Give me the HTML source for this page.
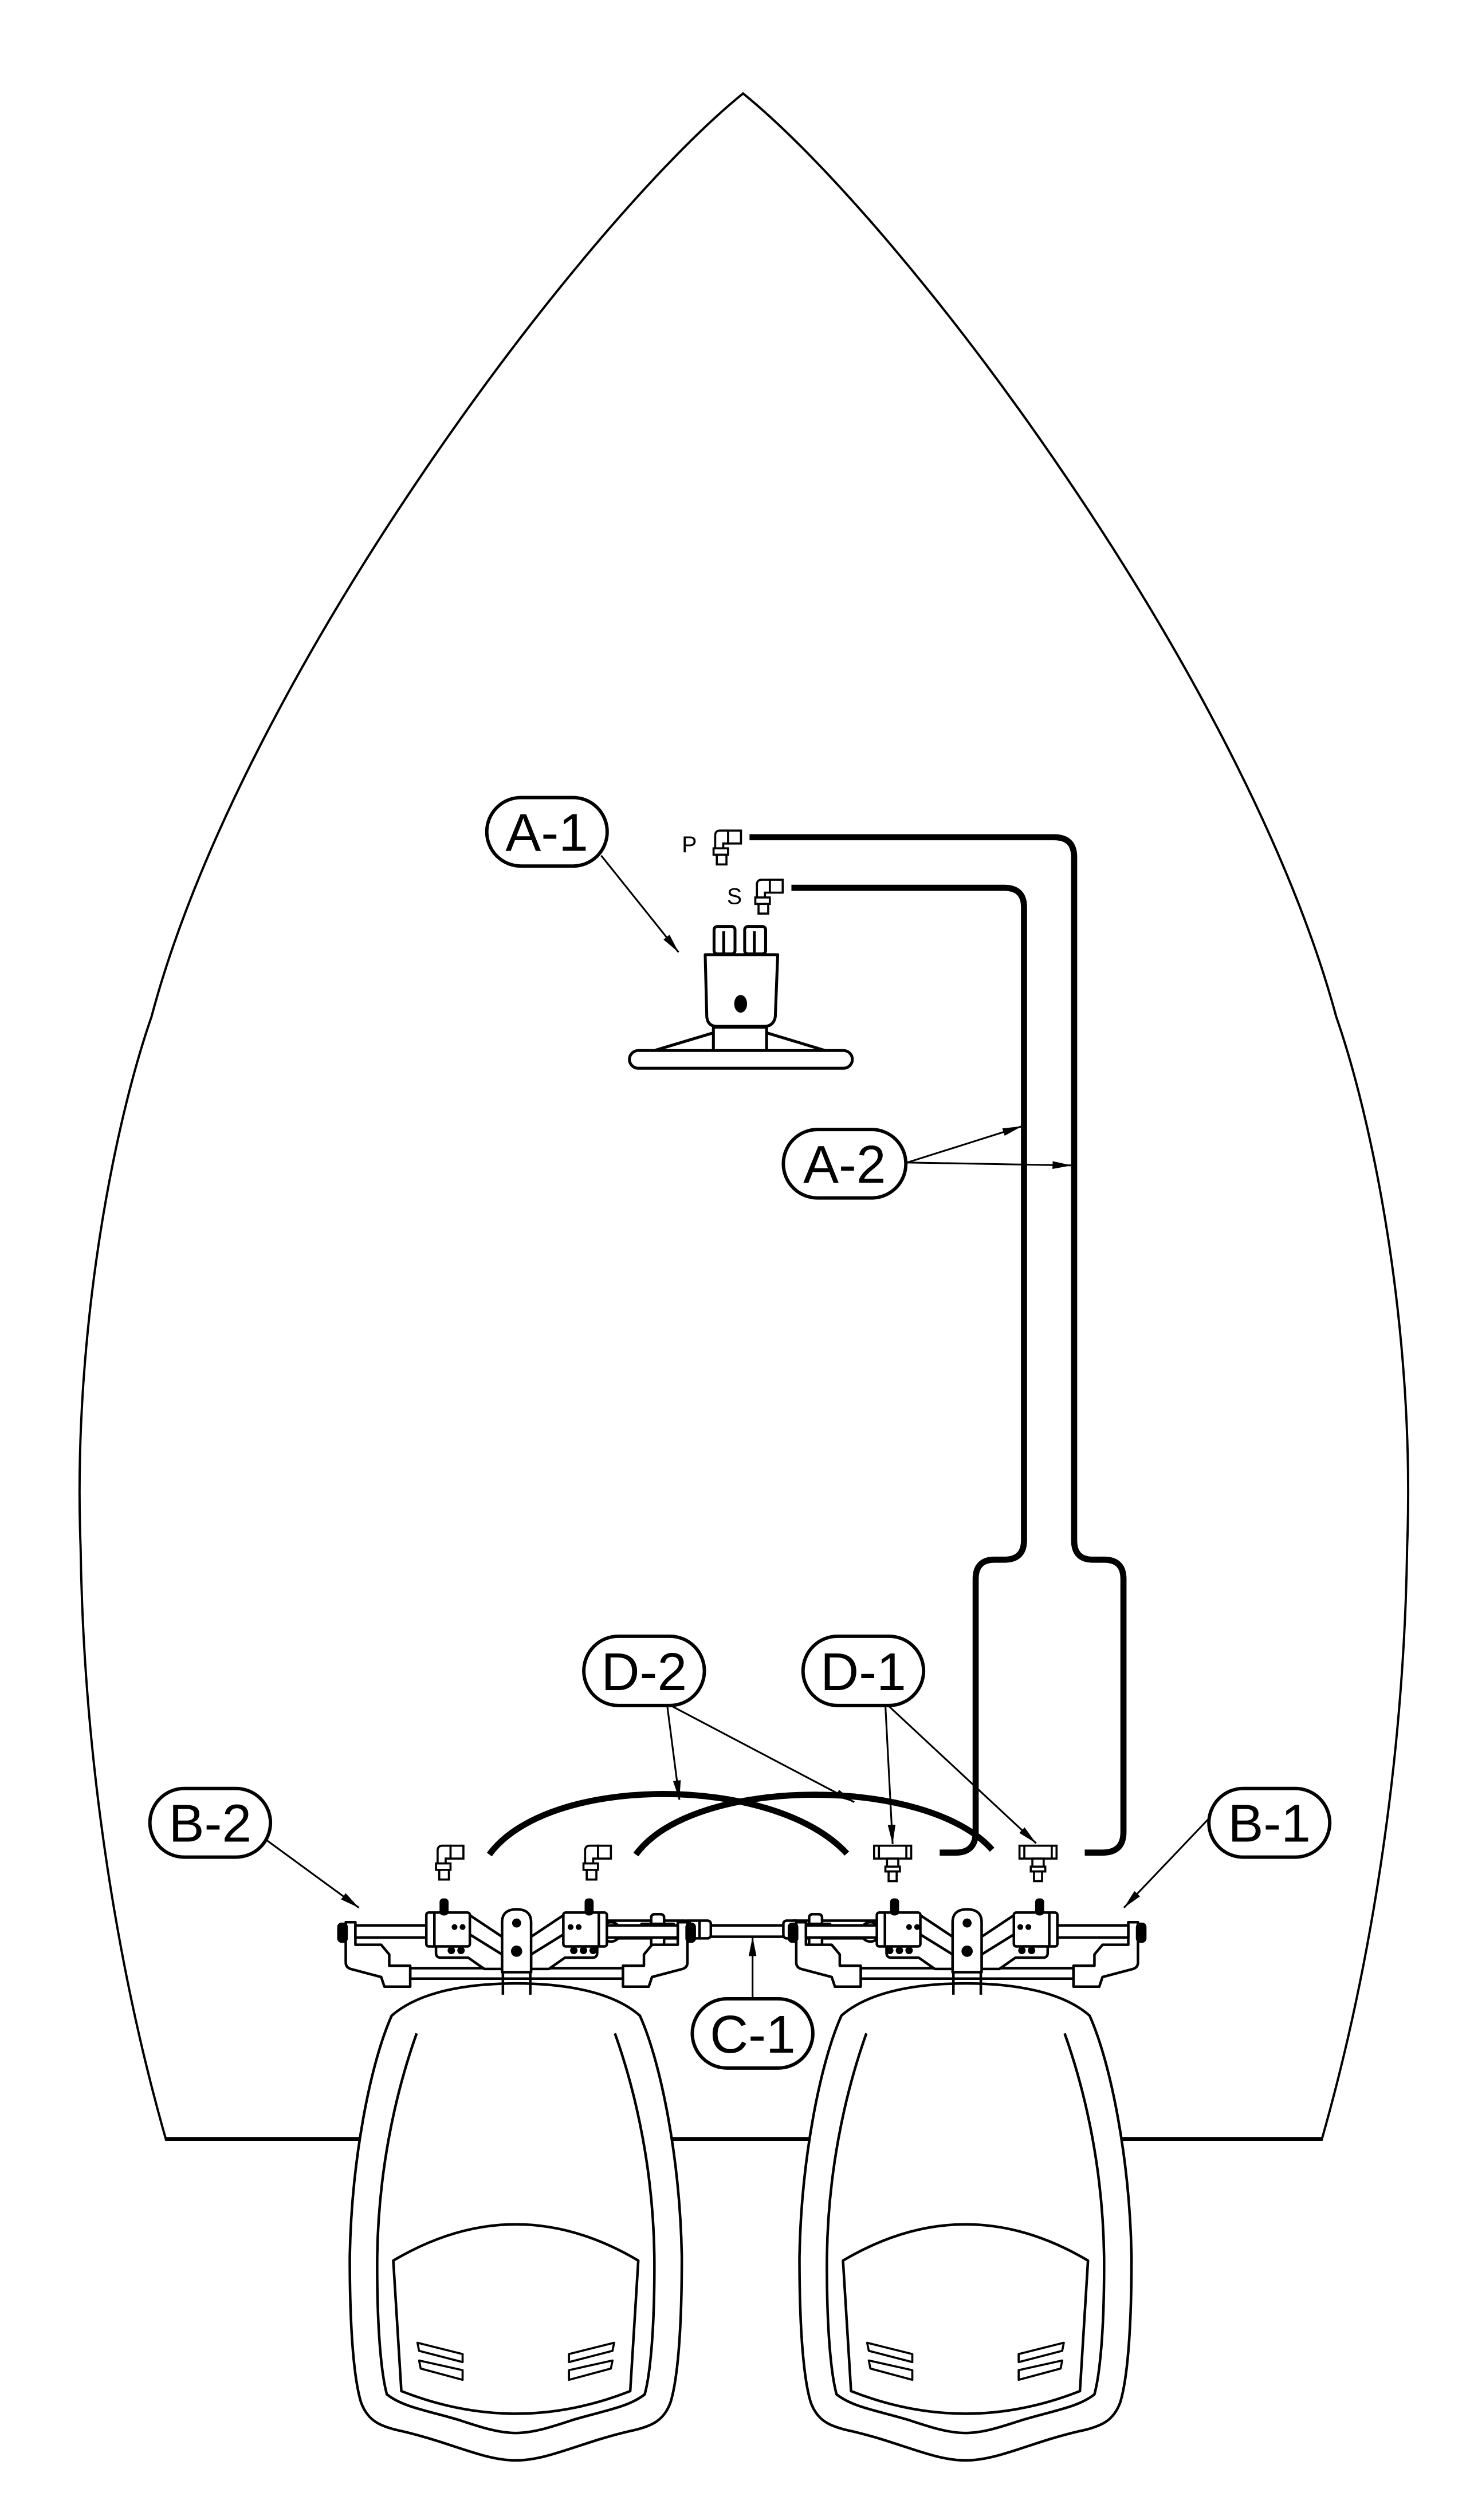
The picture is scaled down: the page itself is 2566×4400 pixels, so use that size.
<!DOCTYPE html>
<html><head><meta charset="utf-8"><style>
html,body{margin:0;padding:0;background:#fff;}
svg{display:block;}
text{font-family:"Liberation Sans",Arial,sans-serif;}
</style></head><body>
<svg xmlns="http://www.w3.org/2000/svg" width="2566" height="4400" viewBox="0 0 912 1564" preserveAspectRatio="none">
<defs>
<marker id="ar" viewBox="0 0 12 6" refX="12" refY="3" markerWidth="12" markerHeight="6" markerUnits="userSpaceOnUse" orient="auto">
<path d="M0,0.6 L12,3 L0,5.4 Z" fill="#000"/>
</marker>
</defs>
<rect width="912" height="1564" fill="#fff"/>

<!-- Hull -->
<path d="M103,1328 C75,1230 52,1100 50,960 C45,830 70,700 94,631 C150,420 360,140 461,58 C562,140 772,420 829,631 C853,700 878,830 873,960 C871,1100 848,1230 820,1328 Z" fill="none" stroke="#000" stroke-width="1.4"/>

<!-- Helm A-1 -->
<g fill="none" stroke="#000" stroke-width="1.8" stroke-linejoin="round">
<rect x="443" y="575" width="13" height="17" rx="2" fill="#fff"/>
<rect x="462" y="575" width="13" height="17" rx="2" fill="#fff"/>
<line x1="449" y1="578" x2="449" y2="592"/><line x1="468" y1="578" x2="468" y2="592"/>
<path d="M437.5,592.5 H482.5 L481,631 Q480,637 474,637 H445 Q439,637 438.5,631 Z" fill="#fff"/>
<rect x="442.6" y="637.5" width="33" height="15"/>
<rect x="390.5" y="652" width="138.3" height="11" rx="5.5" fill="#fff"/>
<line x1="406" y1="652" x2="442.6" y2="641"/><line x1="475.6" y1="641" x2="512" y2="652"/>
</g>
<ellipse cx="459.5" cy="623" rx="4" ry="5.5" fill="#000"/>

<!-- P / S fittings and text -->
<text x="423" y="529" font-size="14">P</text>
<text x="451" y="561" font-size="14">S</text>
<g fill="#fff" stroke="#000" stroke-width="1.3">
<g transform="translate(441.7,514.5)">
<rect x="10" y="1" width="8" height="8"/>
<path d="M2,16 V4 Q2,1 5,1 H10 V9 H7 V16"/>
<rect x="1" y="12" width="9" height="4"/>
<rect x="3" y="16" width="6" height="6"/>
</g>
<g transform="translate(467.6,545)">
<rect x="10" y="1" width="8" height="8"/>
<path d="M2,16 V4 Q2,1 5,1 H10 V9 H7 V16"/>
<rect x="1" y="12" width="9" height="4"/>
<rect x="3" y="16" width="6" height="6"/>
</g>
</g>

<!-- Hoses A-2 -->
<g fill="none" stroke="#000" stroke-width="3.8">
<path d="M465,519.6 H654 Q666.4,519.6 666.4,532 V956 Q666.4,968 678,968 H685 Q697,968 697,980 V1137 Q697,1149.8 684,1149.8 H673"/>
<path d="M491,551 H623 Q635.3,551 635.3,563 V956 Q635.3,968 623,968 H617 Q605.3,968 605.3,980 V1137 Q605.3,1149.8 593,1149.8 H583"/>
</g>

<!-- D-2 hoses (arcs) -->
<g fill="none" stroke="#000" stroke-width="3.8">
<path d="M303.6,1151 C340,1101 480,1101 525.4,1150.4"/>
<path d="M394.5,1151 C430,1102 575,1102 615.5,1148"/>
</g>

<!-- Fittings at transom -->
<g fill="#fff" stroke="#000" stroke-width="1.3">
<g transform="translate(269.5,1144.5)">
<rect x="10" y="1" width="8" height="8"/>
<path d="M2,16 V4 Q2,1 5,1 H10 V9 H7 V16"/>
<rect x="1" y="12" width="9" height="4"/>
<rect x="3" y="16" width="6" height="6"/>
</g>
<g transform="translate(361,1144.5)">
<rect x="10" y="1" width="8" height="8"/>
<path d="M2,16 V4 Q2,1 5,1 H10 V9 H7 V16"/>
<rect x="1" y="12" width="9" height="4"/>
<rect x="3" y="16" width="6" height="6"/>
</g>
<g transform="translate(542.3,1144.5)">
<rect x="0" y="1" width="23" height="8"/>
<line x1="3" y1="1" x2="3" y2="9"/><line x1="20" y1="1" x2="20" y2="9"/>
<rect x="8" y="9" width="7" height="6"/>
<rect x="7" y="14" width="9" height="3"/>
<rect x="9" y="17" width="5" height="6"/>
</g>
<g transform="translate(632.5,1144.5)">
<rect x="0" y="1" width="23" height="8"/>
<line x1="3" y1="1" x2="3" y2="9"/><line x1="20" y1="1" x2="20" y2="9"/>
<rect x="8" y="9" width="7" height="6"/>
<rect x="7" y="14" width="9" height="3"/>
<rect x="9" y="17" width="5" height="6"/>
</g>
</g>

<!-- Transom line -->
<line x1="103" y1="1327" x2="820" y2="1327" stroke="#000" stroke-width="1.4"/>

<!-- Engines -->
<g fill="none" stroke="#000" stroke-width="1.6" stroke-linejoin="round">
<path d="M-77,1251 C-60,1236 -30,1231 0,1231 C30,1231 60,1236 77,1251 C90,1280 102,1340 103,1401 C103,1450 100,1478 96,1491 C92,1502 85,1506 70,1509 C40,1516 20,1527 0,1527 C-20,1527 -40,1516 -70,1509 C-85,1506 -92,1502 -96,1491 C-100,1478 -103,1450 -103,1401 C-102,1340 -90,1280 -77,1251 Z" fill="#fff" transform="translate(320,0)"/>
<g transform="translate(320,0)">
<path d="M-61.5,1262 C-75,1300 -86,1350 -86,1406 C-86,1450 -83,1475 -80,1486 C-70,1494 -55,1496 -35,1502 C-20,1507 -10,1510 0,1510 C10,1510 20,1507 35,1502 C55,1496 70,1494 80,1486 C83,1475 86,1450 86,1406 C86,1350 75,1300 61.5,1262"/>
<path d="M-76,1403 Q0,1358 76,1403 L71,1484 Q0,1512 -71,1484 Z"/>
<path d="M-61,1454 L-33,1461 L-33,1466 L-60,1459 Z M-60,1465 L-33,1471 L-33,1477 L-59,1470 Z" stroke-width="1.3"/>
<path d="M61,1454 L33,1461 L33,1466 L60,1459 Z M60,1465 L33,1471 L33,1477 L59,1470 Z" stroke-width="1.3"/>
</g>
</g>
<g fill="none" stroke="#000" stroke-width="1.6" stroke-linejoin="round">
<path d="M-77,1251 C-60,1236 -30,1231 0,1231 C30,1231 60,1236 77,1251 C90,1280 102,1340 103,1401 C103,1450 100,1478 96,1491 C92,1502 85,1506 70,1509 C40,1516 20,1527 0,1527 C-20,1527 -40,1516 -70,1509 C-85,1506 -92,1502 -96,1491 C-100,1478 -103,1450 -103,1401 C-102,1340 -90,1280 -77,1251 Z" fill="#fff" transform="translate(599,0)"/>
<g transform="translate(599,0)">
<path d="M-61.5,1262 C-75,1300 -86,1350 -86,1406 C-86,1450 -83,1475 -80,1486 C-70,1494 -55,1496 -35,1502 C-20,1507 -10,1510 0,1510 C10,1510 20,1507 35,1502 C55,1496 70,1494 80,1486 C83,1475 86,1450 86,1406 C86,1350 75,1300 61.5,1262"/>
<path d="M-76,1403 Q0,1358 76,1403 L71,1484 Q0,1512 -71,1484 Z"/>
<path d="M-61,1454 L-33,1461 L-33,1466 L-60,1459 Z M-60,1465 L-33,1471 L-33,1477 L-59,1470 Z" stroke-width="1.3"/>
<path d="M61,1454 L33,1461 L33,1466 L60,1459 Z M60,1465 L33,1471 L33,1477 L59,1470 Z" stroke-width="1.3"/>
</g>
</g>

<!-- Tie bar C-1 -->
<g fill="#fff" stroke="#000" stroke-width="1.6">
<rect x="440" y="1195" width="51" height="7"/>
</g>

<!-- Steering assemblies -->
<g fill="#fff" stroke="#000" stroke-width="1.6" stroke-linejoin="round">
<g>
<rect x="373" y="1192" width="52" height="11"/>
<rect x="404" y="1188" width="8" height="22" rx="2"/>
<rect x="398" y="1194" width="20" height="6"/>
<circle cx="416" cy="1197" r="1.3" fill="#000"/>
<rect x="424" y="1192" width="17" height="11" rx="2"/>
<line x1="428" y1="1192" x2="428" y2="1203"/><line x1="434" y1="1192" x2="434" y2="1203"/>
<circle cx="379" cy="1199" r="6"/>
</g>
<g>
<rect x="492" y="1192" width="52" height="11"/>
<rect x="502" y="1188" width="8" height="22" rx="2"/>
<rect x="495" y="1194" width="20" height="6"/>
<circle cx="499" cy="1197" r="1.3" fill="#000"/>
<rect x="486" y="1192" width="10" height="11" rx="2"/>
<circle cx="540" cy="1199" r="6"/>
</g>
</g>

<g transform="translate(320.5,0)" fill="#fff" stroke="#000" stroke-width="1.6" stroke-linejoin="round">
<rect x="-66" y="1221.5" width="132" height="6.5"/>
<path d="M-106,1193 H-100 V1207 H-84 L-79,1213 V1220 H-66 V1233 H-82 L-84,1227 L-103,1222 Q-106,1221 -106,1218 Z"/>
<path d="M106,1193 H100 V1207 H84 L79,1213 V1220 H66 V1233 H82 L84,1227 L103,1222 Q106,1221 106,1218 Z"/>
<rect x="-100" y="1195" width="46" height="7.5"/>
<rect x="54" y="1195" width="46" height="7.5"/>
<rect x="-110.5" y="1194" width="5" height="11" rx="2" fill="#000"/>
<rect x="105.5" y="1194" width="5" height="11" rx="2" fill="#000"/>
<path d="M-50,1200 H-30 L-9,1213 V1222 L-20,1222 L-30,1215 H-47 Q-50,1215 -50,1212 Z"/>
<path d="M50,1200 H30 L9,1213 V1222 L20,1222 L30,1215 H47 Q50,1215 50,1212 Z"/>
<line x1="-30" y1="1188" x2="-9" y2="1202"/><line x1="30" y1="1188" x2="9" y2="1202"/>
<rect x="-56" y="1187" width="27" height="21" rx="1.5"/>
<rect x="29" y="1187" width="27" height="21" rx="1.5"/>
<line x1="-51" y1="1187" x2="-51" y2="1208"/><line x1="51" y1="1187" x2="51" y2="1208"/>
<rect x="-47" y="1179" width="4" height="9" rx="1.5" fill="#000"/>
<rect x="43" y="1179" width="4" height="9" rx="1.5" fill="#000"/>
<path d="M-9,1224 V1193 Q-9,1185 0,1185 Q9,1185 9,1193 V1224 Z"/>
<line x1="-8.5" y1="1224" x2="-8.5" y2="1238"/><line x1="8.5" y1="1224" x2="8.5" y2="1238"/>
</g>
<g fill="#000">
<circle cx="320.5" cy="1193.5" r="2.8"/><circle cx="320.5" cy="1211" r="3.5"/>
<circle cx="280" cy="1210.5" r="2.3"/><circle cx="286" cy="1210.5" r="2.3"/>
<circle cx="282" cy="1196" r="1.8"/><circle cx="287" cy="1196" r="1.8"/>
<circle cx="356" cy="1210.5" r="2.3"/><circle cx="362" cy="1210.5" r="2.3"/><circle cx="368" cy="1210.5" r="2.3"/>
<circle cx="354" cy="1196" r="1.8"/><circle cx="359" cy="1196" r="1.8"/>
</g>

<g transform="translate(600,0)" fill="#fff" stroke="#000" stroke-width="1.6" stroke-linejoin="round">
<rect x="-66" y="1221.5" width="132" height="6.5"/>
<path d="M-106,1193 H-100 V1207 H-84 L-79,1213 V1220 H-66 V1233 H-82 L-84,1227 L-103,1222 Q-106,1221 -106,1218 Z"/>
<path d="M106,1193 H100 V1207 H84 L79,1213 V1220 H66 V1233 H82 L84,1227 L103,1222 Q106,1221 106,1218 Z"/>
<rect x="-100" y="1195" width="46" height="7.5"/>
<rect x="54" y="1195" width="46" height="7.5"/>
<rect x="-110.5" y="1194" width="5" height="11" rx="2" fill="#000"/>
<rect x="105.5" y="1194" width="5" height="11" rx="2" fill="#000"/>
<path d="M-50,1200 H-30 L-9,1213 V1222 L-20,1222 L-30,1215 H-47 Q-50,1215 -50,1212 Z"/>
<path d="M50,1200 H30 L9,1213 V1222 L20,1222 L30,1215 H47 Q50,1215 50,1212 Z"/>
<line x1="-30" y1="1188" x2="-9" y2="1202"/><line x1="30" y1="1188" x2="9" y2="1202"/>
<rect x="-56" y="1187" width="27" height="21" rx="1.5"/>
<rect x="29" y="1187" width="27" height="21" rx="1.5"/>
<line x1="-51" y1="1187" x2="-51" y2="1208"/><line x1="51" y1="1187" x2="51" y2="1208"/>
<rect x="-47" y="1179" width="4" height="9" rx="1.5" fill="#000"/>
<rect x="43" y="1179" width="4" height="9" rx="1.5" fill="#000"/>
<path d="M-9,1224 V1193 Q-9,1185 0,1185 Q9,1185 9,1193 V1224 Z"/>
<line x1="-8.5" y1="1224" x2="-8.5" y2="1238"/><line x1="8.5" y1="1224" x2="8.5" y2="1238"/>
</g>
<g fill="#000">
<circle cx="600" cy="1193.5" r="2.8"/><circle cx="600" cy="1211" r="3.5"/>
<circle cx="558" cy="1210.5" r="2.3"/><circle cx="564" cy="1210.5" r="2.3"/><circle cx="552" cy="1210.5" r="2.3"/>
<circle cx="564" cy="1196" r="1.8"/><circle cx="569" cy="1196" r="1.8"/>
<circle cx="634" cy="1210.5" r="2.3"/><circle cx="640" cy="1210.5" r="2.3"/>
<circle cx="633" cy="1196" r="1.8"/><circle cx="638" cy="1196" r="1.8"/>
</g>

<!-- Leader lines -->
<g stroke="#000" stroke-width="1.1" fill="none" marker-end="url(#ar)">
<line x1="373" y1="531" x2="421" y2="591"/>
<line x1="562.8" y1="721.5" x2="634" y2="699"/>
<line x1="562.8" y1="721.5" x2="665" y2="723.3"/>
<line x1="414" y1="1059" x2="421.5" y2="1117"/>
<line x1="417" y1="1059" x2="530" y2="1118.5"/>
<line x1="549.3" y1="1058.5" x2="553.8" y2="1144.5"/>
<line x1="551" y1="1058.5" x2="642.8" y2="1144"/>
<line x1="165.3" y1="1142" x2="222.7" y2="1184"/>
<line x1="752.5" y1="1126" x2="697.3" y2="1184"/>
<line x1="466.9" y1="1241" x2="466.9" y2="1202"/>
</g>

<!-- Labels -->
<g fill="#fff" stroke="#000" stroke-width="2.1">
<rect x="302" y="495" width="74.7" height="42.5" rx="21.2"/>
<rect x="486" y="701" width="76" height="42.5" rx="21.2"/>
<rect x="362.2" y="1015.5" width="74.8" height="43" rx="21.5"/>
<rect x="498.2" y="1015.5" width="74.8" height="43" rx="21.5"/>
<rect x="93" y="1110" width="74.8" height="42.6" rx="21.3"/>
<rect x="750" y="1110" width="75" height="42.6" rx="21.3"/>
<rect x="429.5" y="1240.5" width="74.8" height="43" rx="21.5"/>
</g>
<g font-size="33" text-anchor="middle" fill="#000">
<text x="339.3" y="528">A-1</text>
<text x="524" y="734">A-2</text>
<text x="399.6" y="1049">D-2</text>
<text x="535.6" y="1049">D-1</text>
<text x="130.4" y="1143">B-2</text>
<text x="787.5" y="1143">B-1</text>
<text x="467" y="1274">C-1</text>
</g>
</svg>
</body></html>
